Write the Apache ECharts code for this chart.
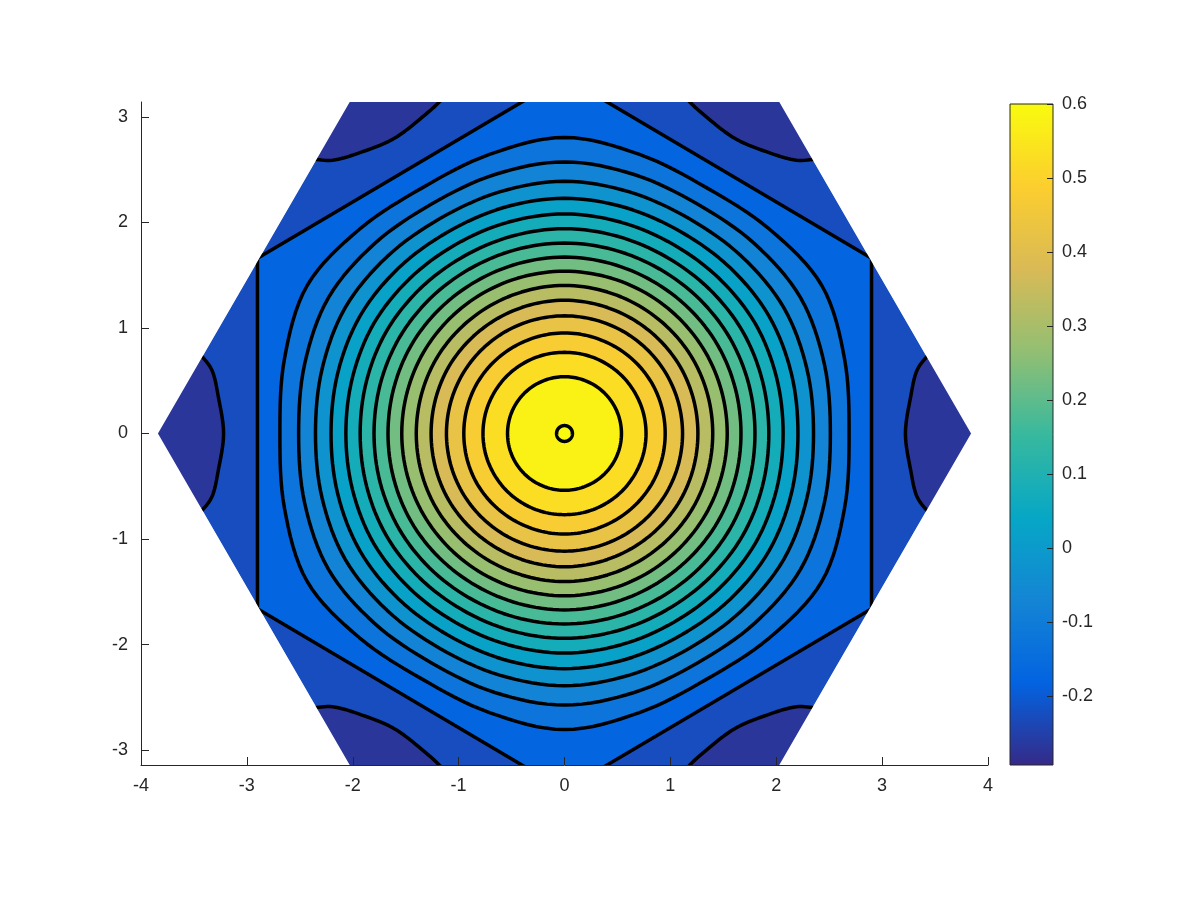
<!DOCTYPE html>
<html>
<head>
<meta charset="utf-8">
<script src="https://cdn.jsdelivr.net/npm/echarts@6/dist/echarts.min.js"></script>
<style>
  html, body { margin: 0; background: #fff; }
  #main { width: 1200px; height: 900px; }
</style>
</head>
<body>
<div id="main"></div>
<script>
// closed contour levels, with radius read at 0, 15 and 30 degrees (hexagonal symmetry gives the rest)
const levels = [-0.15, -0.1, -0.05, 0, 0.05, 0.1, 0.15, 0.2, 0.25, 0.3, 0.35, 0.4, 0.45, 0.5, 0.55, 0.6];
const r0  = [2.688, 2.511, 2.352, 2.205, 2.065, 1.930, 1.799, 1.667, 1.537, 1.400, 1.260, 1.115, 0.951, 0.770, 0.538, 0.075];
const r15 = [2.738, 2.541, 2.370, 2.217, 2.072, 1.935, 1.802, 1.669, 1.537, 1.401, 1.261, 1.115, 0.952, 0.770, 0.538, 0.075];
const r30 = [2.806, 2.574, 2.390, 2.229, 2.081, 1.941, 1.805, 1.672, 1.538, 1.403, 1.263, 1.115, 0.953, 0.769, 0.538, 0.075];

// level -0.2: straight hexagon through the saddle points
const sepLevel = -0.2;
const separatrix = [[2.9, -1.66], [2.9, 1.66], [0, 3.38], [-2.9, 1.66], [-2.9, -1.66], [0, -3.38]];

// level -0.25: arcs round the corner minima (right side, and top right corner)
const arcLevel = -0.25;
const sideArc = [[3.45, 0.76], [3.33, 0.60], [3.27, 0.35], [3.22, 0], [3.27, -0.35], [3.33, -0.60], [3.45, -0.76]];
const topArc = [[1.07, 3.34], [1.15, 3.18], [1.34, 3.0], [1.62, 2.79], [1.95, 2.655], [2.19, 2.59], [2.37, 2.60]];

// the hexagonal domain
const domain = [[3.84, 0], [1.92, 3.33], [-1.92, 3.33], [-3.84, 0], [-1.92, -3.33], [1.92, -3.33]];

// colour scale
const cbMin = -0.293, cbMax = 0.6;
const cbTicks = [-0.2, -0.1, 0, 0.1, 0.2, 0.3, 0.4, 0.5, 0.6];
const yTicks = [-3, -2, -1, 0, 1, 2, 3];

const PARULA = ['#352a87', '#0363e1', '#1485d4', '#06a7c6', '#38b99e', '#92bf73', '#d9ba56', '#fcce2e', '#f9fb0e'];
function hex(c) { return [1, 3, 5].map(i => parseInt(c.substr(i, 2), 16)); }
function parula(v) {
  let t = (v - cbMin) / (cbMax - cbMin);
  t = Math.max(0, Math.min(1, t)) * (PARULA.length - 1);
  const i = Math.min(Math.floor(t), PARULA.length - 2), f = t - i;
  const a = hex(PARULA[i]), b = hex(PARULA[i + 1]);
  return 'rgb(' + a.map((c, j) => Math.round(c + (b[j] - c) * f)).join(',') + ')';
}

function ring(i) {
  const rr = [r0[i], r15[i], r30[i], r15[i]];
  const pts = [];
  for (let k = 0; k < 24; k++) {
    const t = k * Math.PI / 12;
    pts.push([rr[k % 4] * Math.cos(t), rr[k % 4] * Math.sin(t)]);
  }
  return pts;
}
const mirror = (pts, sx, sy) => pts.map(p => [p[0] * sx, p[1] * sy]);

// catmull-rom smoothing of the pixel path, for drawing only
function smoothPath(P, closed, n) {
  const N = P.length, out = [];
  const get = i => closed ? P[(i + N) % N] : P[Math.max(0, Math.min(N - 1, i))];
  const segs = closed ? N : N - 1;
  for (let i = 0; i < segs; i++) {
    const p0 = get(i - 1), p1 = get(i), p2 = get(i + 1), p3 = get(i + 2);
    for (let s = 0; s < n; s++) {
      const t = s / n, t2 = t * t, t3 = t2 * t;
      out.push([0, 1].map(k => 0.5 * (2 * p1[k] + (p2[k] - p0[k]) * t +
        (2 * p0[k] - 5 * p1[k] + 4 * p2[k] - p3[k]) * t2 +
        (3 * p1[k] - p0[k] - 3 * p2[k] + p3[k]) * t3)));
    }
  }
  if (!closed) out.push(P[N - 1]);
  return out;
}

const arcs = [
  sideArc, mirror(sideArc, -1, 1),
  topArc, mirror(topArc, -1, 1), mirror(topArc, 1, -1), mirror(topArc, -1, -1)
];

// filled regions, drawn from outside in
const fills = [];
const kCol = parula(arcLevel - 0.02);
fills.push({ pts: domain, smooth: false, color: parula((arcLevel + sepLevel) / 2) });
fills.push({ pts: sideArc.concat([[4.2, 0]]), smooth: false, color: kCol });
fills.push({ pts: mirror(sideArc, -1, 1).concat([[-4.2, 0]]), smooth: false, color: kCol });
[[1, 1], [-1, 1], [1, -1], [-1, -1]].forEach(s => {
  fills.push({ pts: mirror(topArc.concat([[2.6, 3.6], [1.0, 3.6]]), s[0], s[1]), smooth: false, color: kCol });
});
fills.push({ pts: separatrix, smooth: false, color: parula(sepLevel + 0.025) });
levels.forEach((L, i) => {
  fills.push({ pts: ring(i), smooth: true, closed: true, color: parula(Math.min(L + 0.025, cbMax)) });
});

// contour lines
const lines = [];
lines.push({ pts: separatrix, closed: true, smooth: false });
levels.forEach((L, i) => lines.push({ pts: ring(i), closed: true, smooth: true }));
arcs.forEach(a => lines.push({ pts: a, closed: false, smooth: true }));

// white outside the hexagon
const masks = [
  [[3.84, 0], [1.92, 3.33], [4.5, 3.6], [4.5, -3.6], [1.92, -3.33]],
  [[-3.84, 0], [-1.92, 3.33], [-4.5, 3.6], [-4.5, -3.6], [-1.92, -3.33]]
];

const txt = { fontFamily: 'Liberation Sans, Arial, sans-serif', fontSize: 18, color: '#262626' };
const axisCol = '#262626';

const chart = echarts.init(document.getElementById('main'));
chart.setOption({
  animation: false,
  backgroundColor: '#fff',
  grid: [
    { left: 141, top: 102, width: 847, height: 663 },
    { left: 1010, top: 104, width: 43, height: 661 }
  ],
  xAxis: [
    {
      gridIndex: 0, type: 'value', min: -4, max: 4, interval: 1, z: 10,
      axisLine: { onZero: false, lineStyle: { color: axisCol, width: 1 } },
      axisTick: { inside: true, length: 8, lineStyle: { color: axisCol } },
      axisLabel: Object.assign({ margin: 12 }, txt),
      splitLine: { show: false }
    },
    { gridIndex: 1, type: 'value', min: 0, max: 1, show: false }
  ],
  yAxis: [
    {
      gridIndex: 0, type: 'value', min: -Math.PI, max: Math.PI, z: 10,
      axisLine: { onZero: false, lineStyle: { color: axisCol, width: 1 } },
      axisTick: { inside: true, length: 8, customValues: yTicks, lineStyle: { color: axisCol } },
      axisLabel: Object.assign({ margin: 13, customValues: yTicks }, txt),
      splitLine: { show: false }
    },
    {
      gridIndex: 1, type: 'value', position: 'right', min: cbMin, max: cbMax, z: 10,
      axisLine: { show: false },
      axisTick: { show: false },
      axisLabel: Object.assign({ margin: 9, customValues: cbTicks, formatter: v => String(Math.round(v * 10) / 10) }, txt),
      splitLine: { show: false }
    }
  ],
  series: [
    {
      type: 'custom', xAxisIndex: 0, yAxisIndex: 0, clip: true, z: 2,
      data: fills.map((f, i) => i),
      renderItem: function (params, api) {
        const s = fills[params.dataIndex];
        let pts = s.pts.map(p => api.coord(p));
        if (s.smooth) pts = smoothPath(pts, true, 8);
        return {
          type: 'polygon',
          shape: { points: pts },
          style: { fill: s.color, stroke: s.color, lineWidth: 0.5 }
        };
      }
    },
    {
      type: 'custom', xAxisIndex: 0, yAxisIndex: 0, clip: true, z: 3,
      data: lines.map((l, i) => i),
      renderItem: function (params, api) {
        const s = lines[params.dataIndex];
        let pts = s.pts.map(p => api.coord(p));
        if (s.smooth) pts = smoothPath(pts, s.closed, 8);
        return {
          type: s.closed ? 'polygon' : 'polyline',
          shape: { points: pts },
          style: { fill: null, stroke: '#000', lineWidth: 3.5, lineJoin: 'round' }
        };
      }
    },
    {
      type: 'custom', xAxisIndex: 0, yAxisIndex: 0, clip: true, z: 4,
      data: masks.map((m, i) => i),
      renderItem: function (params, api) {
        return {
          type: 'polygon',
          shape: { points: masks[params.dataIndex].map(p => api.coord(p)) },
          style: { fill: '#fff' }
        };
      }
    },
    {
      type: 'custom', xAxisIndex: 1, yAxisIndex: 1, z: 2,
      data: [0],
      renderItem: function (params, api) {
        const a = api.coord([0, cbMax]), b = api.coord([1, cbMin]);
        const stops = PARULA.map((c, i) => ({ offset: 1 - i / (PARULA.length - 1), color: c })).reverse();
        const children = [{
          type: 'rect',
          shape: { x: a[0], y: a[1], width: b[0] - a[0], height: b[1] - a[1] },
          style: { fill: new echarts.graphic.LinearGradient(0, 0, 0, 1, stops), stroke: axisCol, lineWidth: 1 }
        }];
        cbTicks.forEach(v => {
          const y = Math.round(api.coord([1, v])[1]) + 0.5;
          children.push({ type: 'line', shape: { x1: b[0] - 6, y1: y, x2: b[0], y2: y }, style: { stroke: axisCol, lineWidth: 1 } });
        });
        return { type: 'group', children: children };
      }
    }
  ]
});
</script>
</body>
</html>
